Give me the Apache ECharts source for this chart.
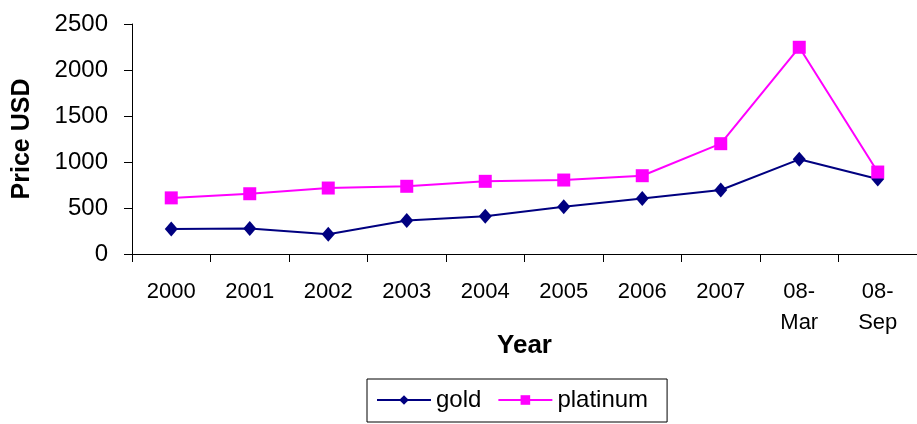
<!DOCTYPE html>
<html>
<head>
<meta charset="utf-8">
<script src="https://cdn.jsdelivr.net/npm/echarts@6/dist/echarts.min.js"></script>
<style>
  html, body { margin: 0; padding: 0; background: #fff; }
  #chart { width: 917px; height: 424px; }
</style>
</head>
<body>
<div id="chart"></div>
<script>
// 数据
const years = ['2000', '2001', '2002', '2003', '2004', '2005', '2006', '2007', '08-\nMar', '08-\nSep']
const gold = [272, 278, 215, 365, 410, 513, 604, 696, 1029, 815]
const platinum = [610, 655, 717, 736, 790, 804, 851, 1199, 2247, 891]
const yTicks = [0, 500, 1000, 1500, 2000, 2500]

const chart = echarts.init(document.getElementById('chart'))

chart.setOption({
  animation: false,
  backgroundColor: '#fff',
  textStyle: { fontFamily: 'Liberation Sans, Arial, sans-serif', color: '#000' },
  grid: { left: 132, right: -5, top: 24, bottom: 170, containLabel: false },
  legend: {
    left: 367,
    top: 379,
    padding: [9, 19, 10, 9],
    itemWidth: 54,
    itemHeight: 12,
    itemGap: 16,
    borderColor: '#000',
    borderWidth: 1,
    textStyle: { fontSize: 24, color: '#000' },
    data: ['gold', 'platinum']
  },
  xAxis: {
    type: 'category',
    data: years,
    boundaryGap: true,
    name: 'Year',
    nameLocation: 'middle',
    nameGap: 79,
    nameMoveOverlap: false,
    nameTextStyle: { fontSize: 26, fontWeight: 'bold', color: '#000' },
    axisLine: { lineStyle: { color: '#000', width: 1 } },
    axisTick: { show: true, length: 8, lineStyle: { color: '#000' } },
    axisLabel: {
      color: '#000',
      fontSize: 22,
      lineHeight: 31,
      margin: 22,
      interval: 0
    },
    splitLine: { show: false }
  },
  yAxis: {
    type: 'value',
    min: yTicks[0],
    max: yTicks[yTicks.length - 1],
    interval: 500,
    name: 'Price USD',
    nameLocation: 'middle',
    nameGap: 97,
    nameTextStyle: { fontSize: 25, fontWeight: 'bold', color: '#000' },
    axisLine: { show: true, lineStyle: { color: '#000', width: 1 } },
    axisTick: { show: true, length: 8, lineStyle: { color: '#000' } },
    axisLabel: { color: '#000', fontSize: 24, margin: 24, formatter: (v) => String(v) },
    splitLine: { show: false }
  },
  series: [
    {
      name: 'gold',
      type: 'line',
      data: gold,
      symbol: 'diamond',
      symbolSize: [13, 15],
      itemStyle: { color: '#000080' },
      lineStyle: { color: '#000080', width: 2 }
    },
    {
      name: 'platinum',
      type: 'line',
      data: platinum,
      symbol: 'rect',
      symbolSize: 13,
      itemStyle: { color: '#ff00ff' },
      lineStyle: { color: '#ff00ff', width: 2 }
    }
  ]
})
</script>
</body>
</html>
